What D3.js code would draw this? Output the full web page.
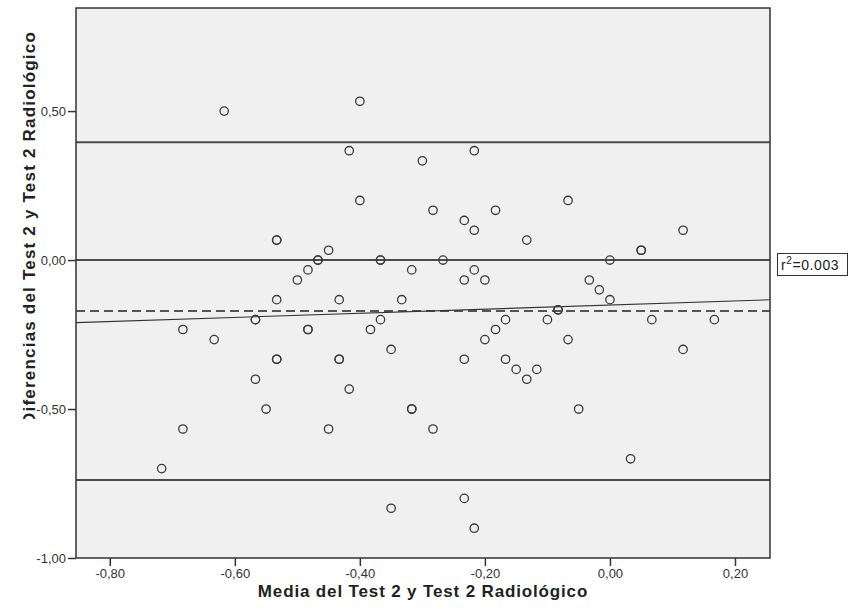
<!DOCTYPE html>
<html>
<head>
<meta charset="utf-8">
<script src="https://cdn.jsdelivr.net/npm/d3@7"></script>
<style>
  html, body { margin: 0; padding: 0; background: #ffffff; }
  svg { display: block; font-family: "Liberation Sans", Arial, sans-serif; }
</style>
</head>
<body>
<svg id="chart" width="850" height="614"></svg>
<script>
// Bland-Altman style plot: mean of the two tests vs. their difference
const meanValues = [
  -0.617, -0.400, -0.417, -0.300, -0.217, -0.400, -0.283, -0.233, -0.217, -0.183,
  -0.067, -0.133, 0.117, 0.050, 0.050, -0.533, -0.533, -0.450, -0.467, -0.467,
  -0.367, -0.367, -0.267, 0.000, -0.483, -0.500, -0.317, -0.217, -0.233, -0.200,
  -0.033, -0.017, 0.000, -0.533, -0.433, -0.333, -0.083, -0.083, -0.567, -0.567,
  -0.367, -0.167, -0.100, 0.067, 0.167, -0.683, -0.483, -0.483, -0.383, -0.183,
  -0.633, -0.200, -0.067, -0.350, 0.117, -0.533, -0.533, -0.433, -0.433, -0.233,
  -0.167, -0.150, -0.117, -0.133, -0.567, -0.417, -0.550, -0.317, -0.317, -0.050,
  -0.683, -0.450, -0.283, 0.033, -0.717, -0.350, -0.233, -0.217
];
const diffValues = [
  0.500, 0.533, 0.367, 0.333, 0.367, 0.200, 0.167, 0.133, 0.100, 0.167,
  0.200, 0.067, 0.100, 0.033, 0.033, 0.067, 0.067, 0.033, 0.000, 0.000,
  0.000, 0.000, 0.000, 0.000, -0.033, -0.067, -0.033, -0.033, -0.067, -0.067,
  -0.067, -0.100, -0.133, -0.133, -0.133, -0.133, -0.167, -0.167, -0.200, -0.200,
  -0.200, -0.200, -0.200, -0.200, -0.200, -0.233, -0.233, -0.233, -0.233, -0.233,
  -0.267, -0.267, -0.267, -0.300, -0.300, -0.333, -0.333, -0.333, -0.333, -0.333,
  -0.333, -0.367, -0.367, -0.400, -0.400, -0.433, -0.500, -0.500, -0.500, -0.500,
  -0.567, -0.567, -0.567, -0.667, -0.700, -0.833, -0.800, -0.900
];

// Reference lines: zero, mean difference and 95% limits of agreement
const zeroLine = 0;
const meanDiff = -0.171;
const upperLimit = 0.395;
const lowerLimit = -0.738;

// Linear fit of difference on mean
const fitIntercept = -0.151;
const fitSlope = 0.069;
const fitR2 = "0.003";

const xTicks = [-0.8, -0.6, -0.4, -0.2, 0.0, 0.2];
const yTicks = [0.5, 0.0, -0.5, -1.0];
const xDomain = [-0.854, 0.256];
const yDomain = [-1.0, 0.846];

const xTitle = "Media del Test 2 y Test 2 Radiológico";
const yTitle = "Diferencias del Test 2 y Test 2 Radiológico";

const svg = d3.select("#chart");
const margin = { top: 8, right: 80, bottom: 56, left: 76 };
const W = 850, H = 614;
const iw = W - margin.left - margin.right;
const ih = H - margin.top - margin.bottom;

const x = d3.scaleLinear().domain(xDomain).range([margin.left, margin.left + iw]);
const y = d3.scaleLinear().domain(yDomain).range([margin.top + ih, margin.top]);

const fmt = d => d3.format(".2f")(d).replace(".", ",").replace("−", "-");

// Plot background
svg.append("rect")
  .attr("x", margin.left).attr("y", margin.top)
  .attr("width", iw).attr("height", ih)
  .attr("fill", "#f0f0f0");

const defs = svg.append("defs");
defs.append("clipPath").attr("id", "plotClip")
  .append("rect")
  .attr("x", margin.left).attr("y", margin.top)
  .attr("width", iw).attr("height", ih);
// The vertical title box is narrower than the text, so its first letter is cut
defs.append("clipPath").attr("id", "titleClip")
  .append("rect")
  .attr("x", 0).attr("y", 0)
  .attr("width", 60).attr("height", 419);

const plot = svg.append("g").attr("clip-path", "url(#plotClip)");

// Horizontal reference lines
[upperLimit, zeroLine, lowerLimit].forEach(v => {
  plot.append("line")
    .attr("x1", margin.left).attr("x2", margin.left + iw)
    .attr("y1", y(v)).attr("y2", y(v))
    .attr("stroke", "#4a4a4a").attr("stroke-width", 2);
});

plot.append("line")
  .attr("x1", margin.left).attr("x2", margin.left + iw)
  .attr("y1", y(meanDiff)).attr("y2", y(meanDiff))
  .attr("stroke", "#222").attr("stroke-width", 1.6)
  .attr("stroke-dasharray", "9,5");

// Fit line
plot.append("line")
  .attr("x1", x(xDomain[0])).attr("x2", x(xDomain[1]))
  .attr("y1", y(fitIntercept + fitSlope * xDomain[0]))
  .attr("y2", y(fitIntercept + fitSlope * xDomain[1]))
  .attr("stroke", "#333").attr("stroke-width", 1.1);

// Points
plot.selectAll("circle.pt")
  .data(meanValues.map((m, i) => [m, diffValues[i]]))
  .join("circle")
  .attr("class", "pt")
  .attr("cx", d => x(d[0]))
  .attr("cy", d => y(d[1]))
  .attr("r", 4.2)
  .attr("fill", "none")
  .attr("stroke", "#3a3a3a")
  .attr("stroke-width", 1.3);

// Frame
svg.append("rect")
  .attr("x", margin.left).attr("y", margin.top)
  .attr("width", iw).attr("height", ih)
  .attr("fill", "none").attr("stroke", "#333").attr("stroke-width", 1.5);

// Axes
const yAxis = d3.axisLeft(y).tickValues(yTicks).tickFormat(fmt).tickSize(8).tickPadding(2);
const xAxis = d3.axisBottom(x).tickValues(xTicks).tickFormat(fmt).tickSize(8).tickPadding(3);

const gy = svg.append("g").attr("transform", `translate(${margin.left},0)`).call(yAxis);
const gx = svg.append("g").attr("transform", `translate(0,${margin.top + ih})`).call(xAxis);
[gx, gy].forEach(g => {
  g.select(".domain").remove();
  g.selectAll(".tick line").attr("stroke", "#333").attr("stroke-width", 1.5);
  g.selectAll(".tick text")
    .attr("fill", "#333")
    .style("font-family", "'Liberation Sans', Arial, sans-serif")
    .style("font-size", "13px");
});

// Axis titles
svg.append("text")
  .attr("x", margin.left + iw / 2)
  .attr("y", 597)
  .attr("text-anchor", "middle")
  .style("font-size", "17px")
  .style("font-weight", "bold")
  .style("letter-spacing", "0.85px")
  .attr("fill", "#222")
  .text(xTitle);

svg.append("g").attr("clip-path", "url(#titleClip)")
  .append("text")
  .attr("transform", "translate(35,31) rotate(-90)")
  .attr("text-anchor", "end")
  .style("font-size", "17px")
  .style("font-weight", "bold")
  .style("letter-spacing", "1.2px")
  .attr("fill", "#222")
  .text(yTitle);

// R-squared label
const r2g = svg.append("g");
r2g.append("rect")
  .attr("x", 777.5).attr("y", 253.5)
  .attr("width", 70).attr("height", 22)
  .attr("fill", "#fff").attr("stroke", "#333").attr("stroke-width", 1);
const r2t = r2g.append("text")
  .attr("x", 781).attr("y", 270)
  .style("font-size", "14px")
  .style("letter-spacing", "0.6px")
  .attr("fill", "#222");
r2t.append("tspan").text("r");
r2t.append("tspan").attr("dy", -6).style("font-size", "10px").text("2");
r2t.append("tspan").attr("dy", 6).text("=" + fitR2);
</script>
</body>
</html>
